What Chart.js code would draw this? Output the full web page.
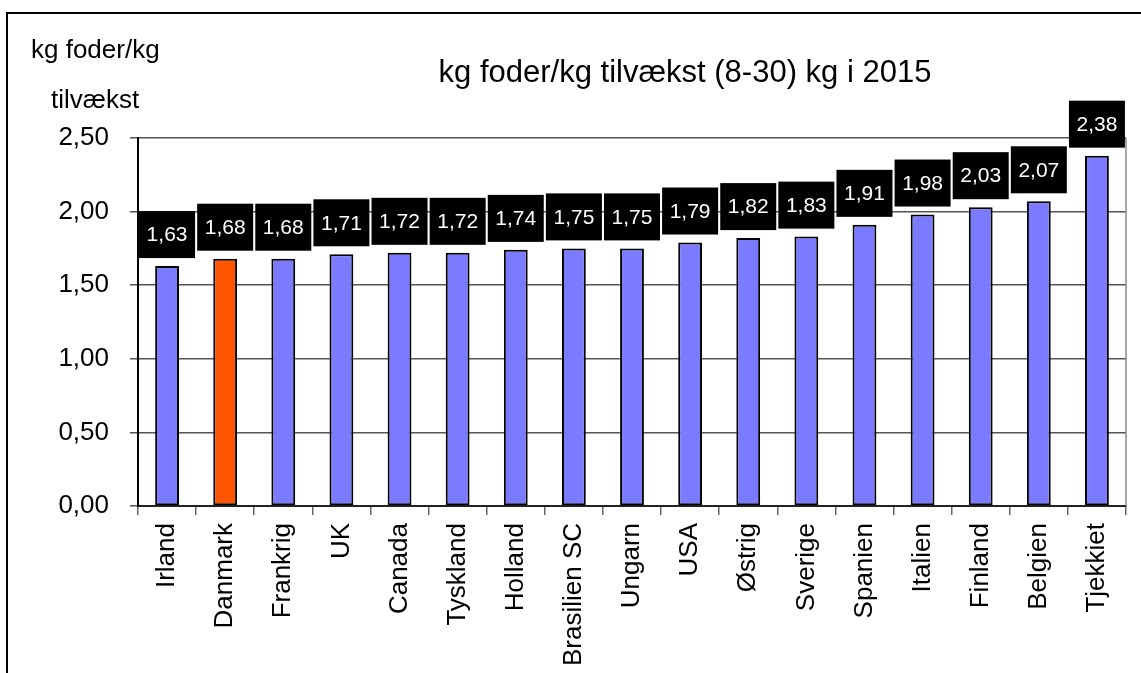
<!DOCTYPE html>
<html>
<head>
<meta charset="utf-8">
<script src="https://cdn.jsdelivr.net/npm/chart.js"></script>
<style>
  html, body { margin: 0; padding: 0; background: #fff; }
  #wrap { width: 1141px; height: 673px; }
</style>
</head>
<body>
<div id="wrap"><canvas id="c" width="1141" height="673"></canvas></div>
<script>
const categories = ['Irland','Danmark','Frankrig','UK','Canada','Tyskland','Holland','Brasilien SC','Ungarn','USA','Østrig','Sverige','Spanien','Italien','Finland','Belgien','Tjekkiet'];
const values = [1.63,1.68,1.68,1.71,1.72,1.72,1.74,1.75,1.75,1.79,1.82,1.83,1.91,1.98,2.03,2.07,2.38];
const yTickLabels = ['0,00','0,50','1,00','1,50','2,00','2,50'];
const chartTitle = 'kg foder/kg tilvækst (8-30) kg i 2015';
const yTitleLines = ['kg foder/kg', 'tilvækst'];
const highlight = 'Danmark';

const FONT = "'Liberation Sans', Arial, sans-serif";
const BLUE = '#7b7bff';
const ORANGE = '#ff5500';

const decor = {
  id: 'decor',
  beforeDraw(chart) {
    const ctx = chart.ctx;
    ctx.save();
    ctx.fillStyle = '#fff';
    ctx.fillRect(0, 0, chart.width, chart.height);
    ctx.strokeStyle = '#000';
    ctx.lineWidth = 2;
    ctx.beginPath();
    ctx.moveTo(7, chart.height);
    ctx.lineTo(7, 13);
    ctx.lineTo(chart.width, 13);
    ctx.stroke();
    ctx.restore();
  },
  afterDatasetsDraw(chart) {
    const ctx = chart.ctx;
    const ca = chart.chartArea;
    ctx.save();
    // right border of plot
    ctx.strokeStyle = '#888';
    ctx.lineWidth = 1.5;
    ctx.beginPath();
    ctx.moveTo(ca.right, ca.top);
    ctx.lineTo(ca.right, ca.bottom);
    ctx.stroke();
    // value boxes
    const meta = chart.getDatasetMeta(0);
    ctx.font = '21px ' + FONT;
    ctx.textAlign = 'center';
    ctx.textBaseline = 'middle';
    meta.data.forEach((bar, i) => {
      const w = 56, h = 47;
      const bottom = bar.y - 8;
      ctx.fillStyle = '#000';
      ctx.fillRect(bar.x - w / 2, bottom - h, w, h);
      ctx.fillStyle = '#fff';
      ctx.fillText(values[i].toFixed(2).replace('.', ','), bar.x, bottom - h / 2 + 1);
    });
    // titles
    ctx.fillStyle = '#000';
    ctx.textAlign = 'center';
    ctx.textBaseline = 'alphabetic';
    ctx.font = '31px ' + FONT;
    ctx.fillText(chartTitle, 685, 82);
    ctx.textAlign = 'left';
    ctx.font = '26px ' + FONT;
    ctx.fillText(yTitleLines[0], 31, 58);
    ctx.fillText(yTitleLines[1], 51, 108);
    ctx.restore();
  }
};

new Chart(document.getElementById('c'), {
  type: 'bar',
  data: {
    labels: categories,
    datasets: [{
      data: values,
      backgroundColor: categories.map(c => c === highlight ? ORANGE : BLUE),
      borderColor: '#000',
      borderWidth: 2,
      borderSkipped: false,
      categoryPercentage: 1,
      barPercentage: 0.41
    }]
  },
  options: {
    responsive: false,
    animation: false,
    events: [],
    layout: { padding: { left: 0, top: 138, right: 15, bottom: 0 } },
    plugins: { legend: { display: false }, title: { display: false }, tooltip: { enabled: false } },
    scales: {
      x: {
        grid: { offset: true, drawOnChartArea: false, drawTicks: true, tickLength: 9, color: '#666', lineWidth: 1.5 },
        border: { display: true, color: '#222', width: 2 },
        ticks: {
          minRotation: 90, maxRotation: 90, autoSkip: false, padding: 8,
          color: '#000', font: { family: FONT, size: 26 }
        },
        afterFit(s) { s.height = 167; }
      },
      y: {
        min: 0, max: 2.5,
        grid: { color: '#555', lineWidth: 1.5, tickLength: 8, drawTicks: true },
        border: { display: true, color: '#000', width: 2 },
        ticks: {
          stepSize: 0.5, padding: 21, color: '#000',
          font: { family: FONT, size: 26 },
          callback: (v, i) => yTickLabels[i]
        },
        afterFit(s) { s.width = 138; }
      }
    }
  },
  plugins: [decor]
});
</script>
</body>
</html>
